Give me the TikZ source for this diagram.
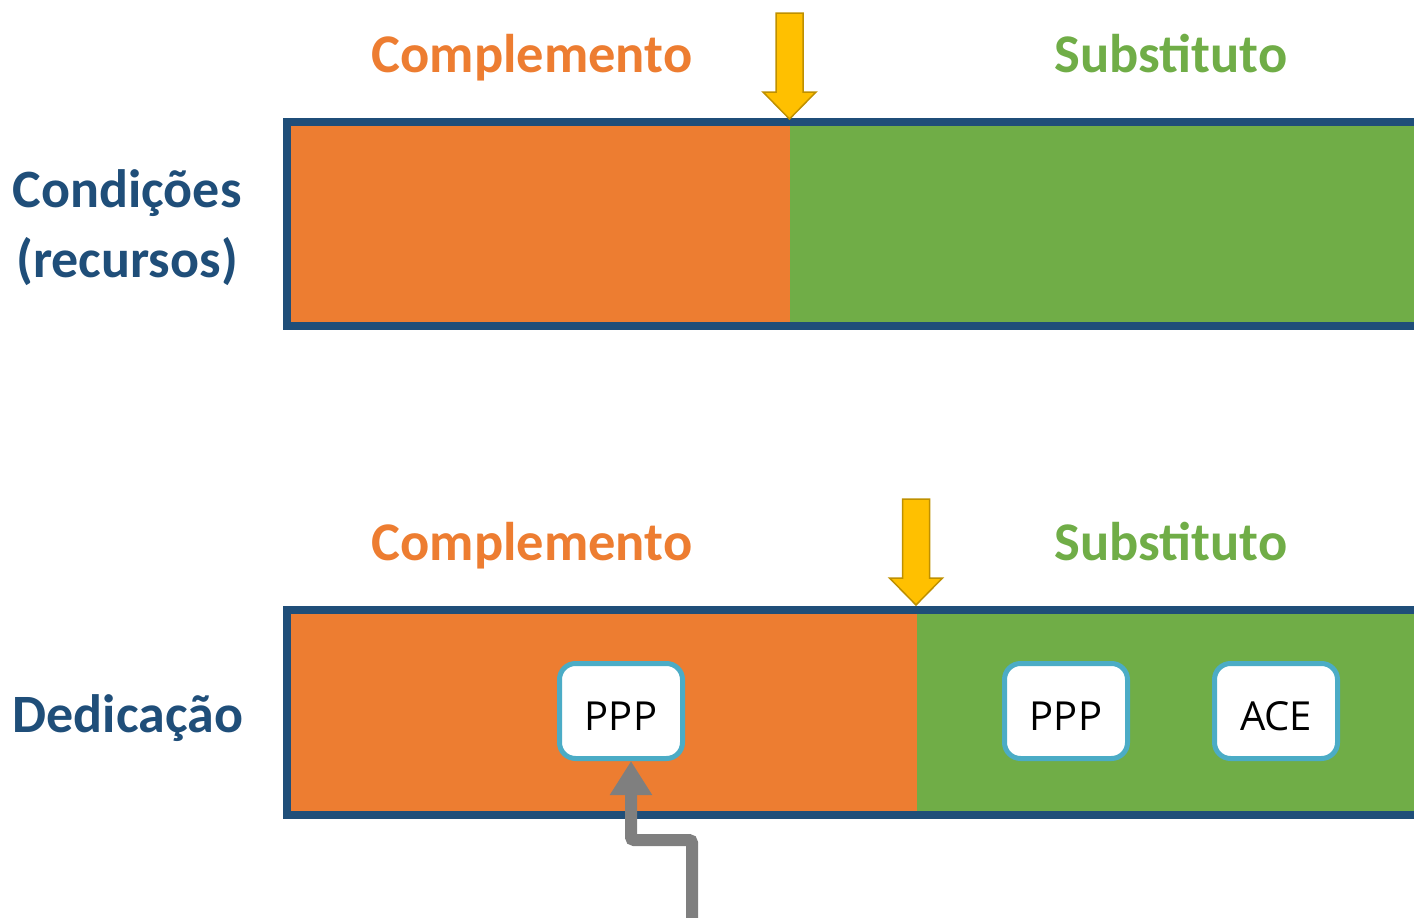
\documentclass[tikz,border=0pt]{standalone}
\usepackage{fontspec}
\setmainfont{Carlito}
\newfontfamily\chipfont{Open Sans}
\usepackage{xcolor}
\usetikzlibrary{arrows.meta,positioning}
\definecolor{barblue}{HTML}{1F4E79}
\definecolor{barorange}{HTML}{ED7D31}
\definecolor{bargreen}{HTML}{70AD47}
\definecolor{pointfill}{HTML}{FFC000}
\definecolor{pointedge}{HTML}{BF9000}
\definecolor{chipedge}{HTML}{4BACC6}
\definecolor{leadgray}{HTML}{7F7F7F}
\tikzset{
	heading/.style={font=\bfseries\fontsize{54.5}{60}\selectfont, anchor=base},
	sidetext/.style={font=\bfseries\fontsize{54}{70}\selectfont, text=barblue, align=center, anchor=base},
	chip/.style={draw=chipedge, line width=5pt, fill=white, rounded corners=16pt,
			minimum width=123pt, minimum height=95pt, inner sep=0pt,
			text height=38pt, text depth=0pt,
			font=\chipfont\fontsize{40}{48}\selectfont},
	pointer/.style={fill=pointfill, draw=pointedge, line width=1.5pt}
}

\begin{document}
\begin{tikzpicture}[x=1pt, y=-1pt]
				\useasboundingbox (0,0) rectangle (1414,918);
				\clip (0,0) rectangle (1414,918);
				% upper bar
				\fill [barorange] (287,122) rectangle (790,326);
				\fill [bargreen]  (790,122) rectangle (1430,326);
				\draw [barblue, line width=8pt] (1430,122) -- (287,122) -- (287,326) -- (1430,326);
				% lower bar
				\fill [barorange] (287,610) rectangle (917,815);
				\fill [bargreen]  (917,610) rectangle (1430,815);
				\draw [barblue, line width=8pt] (1430,610) -- (287,610) -- (287,815) -- (1430,815);
				% yellow pointers
				\foreach \x/\y in {789.5/13, 916/499}
					\filldraw [pointer] (\x-13.5,\y) -- ++(27,0) -- ++(0,79) -- ++(13,0)
										-- ++(-26.5,27) -- ++(-26.5,-27) -- ++(13,0) -- cycle;
				% headings
				\node [heading, text=barorange] (comp1) at (532,72) {Complemento};
				\node [heading, text=bargreen]  (subs1) at (1171,72) {Substituto};
				\node [heading, text=barorange] (comp2) at (532,560) {Complemento};
				\node [heading, text=bargreen]  (subs2) at (1171,560) {Substituto};
				\node [sidetext] (cond) at (127,277) {Condições\\(recursos)};
				\node [sidetext] (dedic) at (128,732) {Dedicação};
				% boxes
				\node [chip] (ppp1) at (621,711) {PPP};
				\node [chip] (ppp2) at (1066,711) {PPP};
				\node [chip] (ace)  at (1276,711) {ACE};
				\coordinate (feed) at (692,925);
				\draw [-{Triangle[length=34pt, width=40pt]}, leadgray, line width=12pt, rounded corners=3pt]
					(feed) |- (631,840) -- (ppp1.south -| 631,0);
			\end{tikzpicture}
\end{document}
